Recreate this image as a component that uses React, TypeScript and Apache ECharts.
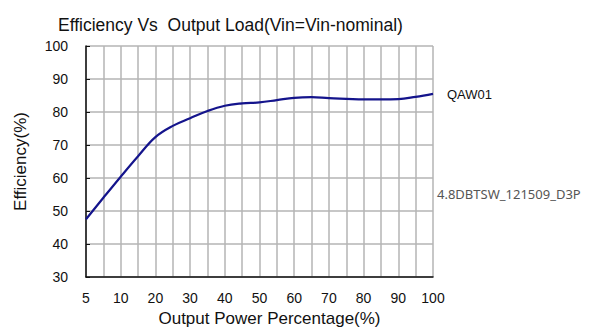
import React, { useEffect, useRef } from "react";
import * as echarts from "echarts";

// Axis positions (the first position is labelled "5" in the reference)
const loadPos = [0, 5, 10, 15, 20, 25, 30, 35, 40, 45, 50, 55, 60, 65, 70, 75, 80, 85, 90, 95, 100];
const efficiency = [47.5, 54.0, 60.4, 66.6, 72.4, 75.8, 78.1, 80.3, 81.9, 82.6, 82.9, 83.6, 84.3, 84.5, 84.2, 84.0, 83.8, 83.8, 83.9, 84.6, 85.5];
const xTickValues = [0, 10, 20, 30, 40, 50, 60, 70, 80, 90, 100];
const xTickLabels = ["5", "10", "20", "30", "40", "50", "60", "70", "80", "90", "100"];
const seriesName = "QAW01";
const modelName = "4.8DBTSW_121509_D3P";
const titleText = "Efficiency Vs  Output Load(Vin=Vin-nominal)";

const FONT = "'Liberation Sans', Arial, sans-serif";

export default function App() {
  const ref = useRef<HTMLDivElement>(null);
  useEffect(() => {
    if (!ref.current) return;
    const chart = echarts.init(ref.current, null, { renderer: "svg" });
    chart.setOption({
      animation: false,
      backgroundColor: "#ffffff",
      title: {
        text: titleText,
        left: 53,
        top: 11,
        textStyle: { fontFamily: FONT, fontSize: 17.5, fontWeight: "normal", color: "#111" },
      },
      grid: { left: 86, top: 46, width: 347, height: 231, containLabel: false, outerBoundsMode: "none" },
      xAxis: {
        type: "value",
        min: 0,
        max: 100,
        interval: 5,
        name: "Output Power Percentage(%)",
        nameLocation: "middle",
        nameGap: 32,
        nameTextStyle: { fontFamily: FONT, fontSize: 17, color: "#111", padding: [0, 0, 0, 20] },
        axisLine: { show: true, lineStyle: { color: "#111", width: 1.5 } },
        axisTick: { show: false },
        axisLabel: {
          interval: 0,
          showMinLabel: true,
          showMaxLabel: true,
          hideOverlap: false,
          formatter: (v: number) => {
            const i = xTickValues.indexOf(v);
            return i >= 0 ? xTickLabels[i] : "";
          },
          fontFamily: FONT,
          fontSize: 14,
          color: "#111",
          margin: 14,
        },
        splitLine: { show: true, lineStyle: { color: "#b4b4b4", width: 1.5 } },
      },
      yAxis: {
        type: "value",
        min: 30,
        max: 100,
        interval: 10,
        name: "Efficiency(%)",
        nameLocation: "middle",
        nameGap: 57,
        nameTextStyle: { fontFamily: FONT, fontSize: 17, color: "#111" },
        axisLine: { show: true, lineStyle: { color: "#111", width: 1.5 } },
        axisTick: { show: true, inside: true, length: 4, lineStyle: { color: "#111" } },
        axisLabel: { fontFamily: FONT, fontSize: 14, color: "#111", margin: 18 },
        splitLine: { show: true, lineStyle: { color: "#b4b4b4", width: 1.5 } },
      },
      series: [
        {
          name: seriesName,
          type: "line",
          data: loadPos.map((x, i) => [x, efficiency[i]]),
          smooth: 0.4,
          showSymbol: false,
          lineStyle: { color: "#14148c", width: 2.2 },
        },
      ],
      graphic: [
        {
          type: "text",
          left: 447,
          top: 88,
          style: { text: seriesName, fontFamily: FONT, fontSize: 13, fill: "#111" },
        },
        {
          type: "text",
          left: 437,
          top: 187,
          style: { text: modelName, fontFamily: "'Noto Sans', sans-serif", fontSize: 13, fill: "#555" },
        },
      ],
    });
    return () => chart.dispose();
  }, []);
  return <div ref={ref} style={{ position: "absolute", left: 0, top: 0, width: 606, height: 327 }} />;
}
